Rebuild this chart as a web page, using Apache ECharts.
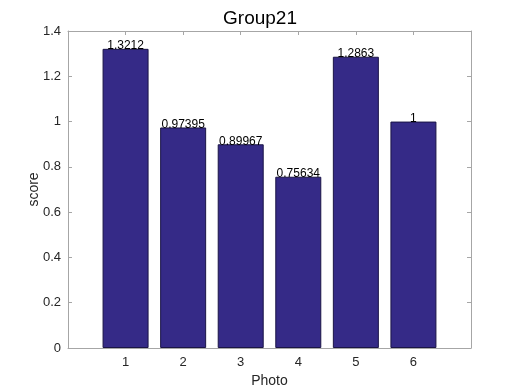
<!DOCTYPE html>
<html><head><meta charset="utf-8">
<script src="https://cdn.jsdelivr.net/npm/echarts@6/dist/echarts.min.js"></script>
<style>html,body{margin:0;padding:0;background:#fff}#c{width:520px;height:390px}</style>
</head><body><div id="c"></div>
<script>
const categories = [1, 2, 3, 4, 5, 6];
const scores = [1.3212, 0.97395, 0.89967, 0.75634, 1.2863, 1];
const scoreLabels = ['1.3212', '0.97395', '0.89967', '0.75634', '1.2863', '1'];
const yTicks = [0, 0.2, 0.4, 0.6, 0.8, 1, 1.2, 1.4];

const font = 'Liberation Sans, Arial, Helvetica, sans-serif';
const axisColor = '#a6a6a6';
const labelColor = '#262626';
const chart = echarts.init(document.getElementById('c'), null, {renderer: 'canvas'});
const axisCommon = {
  axisLine: {show: true, onZero: false, lineStyle: {color: axisColor, width: 1}},
  axisTick: {show: true, inside: true, length: 4, lineStyle: {color: axisColor}},
  splitLine: {show: false},
  nameMoveOverlap: false
};
chart.setOption({
  animation: false,
  backgroundColor: '#fff',
  title: {text: 'Group21', left: 'center', top: 4, textStyle: {fontFamily: font, fontSize: 19, fontWeight: 'normal', color: '#000'}},
  grid: {left: 68, top: 31, width: 403, height: 317, containLabel: false, outerBoundsMode: 'none'},
  xAxis: [
    Object.assign({type: 'value', position: 'bottom', min: 0, max: 7, interval: 1,
      name: 'Photo', nameLocation: 'middle', nameGap: 26,
      nameTextStyle: {fontFamily: font, fontSize: 14, color: labelColor},
      axisLabel: {fontFamily: font, fontSize: 13, color: labelColor, margin: 8,
        formatter: v => categories.indexOf(v) >= 0 ? String(v) : ''}}, axisCommon),
    Object.assign({type: 'value', position: 'top', min: 0, max: 7, interval: 1,
      axisLabel: {show: false}}, axisCommon)
  ],
  yAxis: [
    Object.assign({type: 'value', position: 'left', min: 0, max: 1.4, interval: 0.2,
      name: 'score', nameLocation: 'middle', nameGap: 27, nameRotate: 90,
      nameTextStyle: {fontFamily: font, fontSize: 14, color: labelColor},
      axisLabel: {fontFamily: font, fontSize: 13, color: labelColor, margin: 7,
        formatter: v => { const t = yTicks.find(x => Math.abs(x - v) < 1e-9); return t === undefined ? '' : String(+t.toFixed(1)); }}}, axisCommon),
    Object.assign({type: 'value', position: 'right', min: 0, max: 1.4, interval: 0.2,
      axisLabel: {show: false}}, axisCommon)
  ],
  series: [{
    type: 'bar',
    xAxisIndex: 0, yAxisIndex: 0,
    barWidth: 46,
    data: categories.map((c, i) => [c, scores[i]]),
    itemStyle: {color: '#352a87', borderColor: '#1a1446', borderWidth: 1},
    label: {show: true, position: 'top', distance: -3, fontFamily: font, fontSize: 12, color: '#000',
      formatter: p => scoreLabels[p.dataIndex]}
  }]
});
</script></body></html>
